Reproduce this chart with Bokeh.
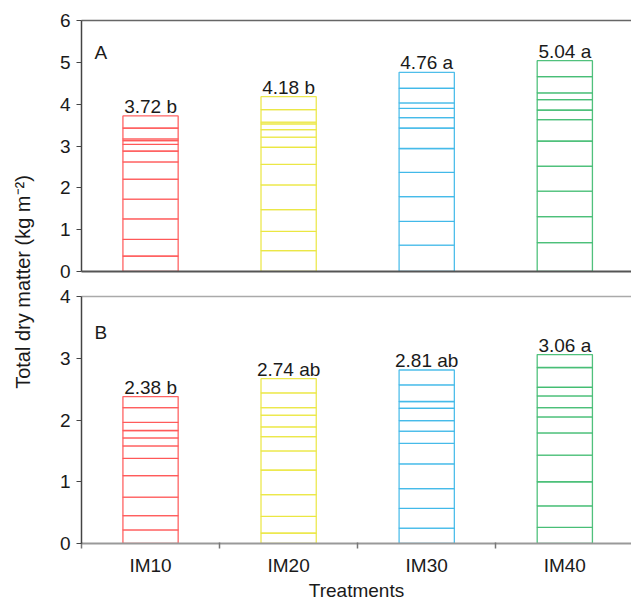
import math
from bokeh.plotting import figure
from bokeh.models import (Range1d, FixedTicker, LinearAxis, Label, LabelSet,
                          ColumnDataSource)
from bokeh.core.properties import value
from bokeh.layouts import row, column
from bokeh.embed import file_html
from bokeh.resources import INLINE

FONT = "Liberation Sans"

treatments = ["IM10", "IM20", "IM30", "IM40"]
colors = ["#FF5252", "#EAE53C", "#3CB7E8", "#3DBA6E"]

# Panel A: cumulative levels (horizontal lines inside each bar), last = bar top
a_im10 = [0.37, 0.77, 1.26, 1.73, 2.21, 2.62, 2.88, 3.04, 3.13, 3.17, 3.43, 3.72]
a_im20 = [0.50, 0.96, 1.48, 2.07, 2.56, 2.97, 3.21, 3.39, 3.53, 3.57, 3.87, 4.18]
a_im30 = [0.63, 1.20, 1.79, 2.37, 2.94, 3.43, 3.68, 3.90, 4.03, 4.38, 4.76]
a_im40 = [0.69, 1.31, 1.92, 2.52, 3.12, 3.63, 3.86, 4.11, 4.27, 4.66, 5.04]
a_labels = ["3.72 b", "4.18 b", "4.76 a", "5.04 a"]

# Panel B
b_im10 = [0.22, 0.45, 0.75, 1.10, 1.38, 1.58, 1.71, 1.83, 1.96, 2.20, 2.38]
b_im20 = [0.17, 0.44, 0.79, 1.19, 1.50, 1.73, 1.89, 2.08, 2.20, 2.44, 2.67]
b_im30 = [0.25, 0.57, 0.89, 1.29, 1.62, 1.82, 1.99, 2.19, 2.30, 2.57, 2.81]
b_im40 = [0.26, 0.61, 1.00, 1.43, 1.79, 2.05, 2.20, 2.39, 2.53, 2.85, 3.06]
b_labels = ["2.38 b", "2.74 ab", "2.81 ab", "3.06 a"]

a_ticks = [0, 1, 2, 3, 4, 5, 6]
b_ticks = [0, 1, 2, 3, 4]

X_MAX = 4.483
LABEL_W = 44
PANEL_W = 631 - LABEL_W


def make_panel(levels, labels, ymax, yticks, height, b_top, b_bottom,
               letter, letter_y, bottom_axis):
    p = figure(width=PANEL_W, height=height, output_backend="svg",
               toolbar_location=None, x_range=Range1d(0.5, X_MAX),
               y_range=Range1d(0, ymax), min_border_left=37,
               min_border_right=0, min_border_top=b_top,
               min_border_bottom=b_bottom)
    p.outline_line_color = None
    p.xgrid.visible = False
    p.ygrid.visible = False

    xs, bottoms, tops, cols = [], [], [], []
    for i, lv in enumerate(levels):
        prev = 0.0
        for v in lv:
            xs.append(i + 1)
            bottoms.append(prev)
            tops.append(v)
            cols.append(colors[i])
            prev = v
    src = ColumnDataSource(dict(x=xs, bottom=bottoms, top=tops, c=cols))
    p.vbar(x="x", width=0.4, bottom="bottom", top="top", source=src,
           fill_color="white", line_color="c", line_width=1.3, line_alpha=0.9)

    lsrc = ColumnDataSource(dict(x=[1, 2, 3, 4], y=[lv[-1] for lv in levels],
                                 t=labels))
    p.add_layout(LabelSet(x="x", y="y", text="t", source=lsrc, y_offset=3,
                          text_align="center", text_baseline="alphabetic",
                          text_font=value(FONT), text_font_size=value("19px"),
                          text_color=value("#1a1a1a")))

    p.add_layout(Label(x=0.594, y=letter_y, text=letter, text_font=FONT,
                       text_font_size="19px", text_color="#1a1a1a",
                       text_align="left", text_baseline="alphabetic"))

    ya = p.left[0]
    ya.ticker = FixedTicker(ticks=yticks)
    ya.major_tick_out = 5
    ya.major_tick_in = 0
    ya.minor_tick_line_color = None
    ya.axis_line_color = "#444444"
    ya.axis_line_width = 1.5
    ya.major_tick_line_color = "#444444"
    ya.major_label_text_font = FONT
    ya.major_label_text_font_size = "19px"
    ya.major_label_text_color = "#1a1a1a"
    ya.major_label_standoff = 6

    xa = p.below[0]
    if bottom_axis:
        xa.ticker = FixedTicker(ticks=[1, 2, 3, 4],
                                minor_ticks=[0.5, 1.5, 2.5, 3.5, 4.5])
        xa.major_label_overrides = {1: treatments[0], 2: treatments[1],
                                    3: treatments[2], 4: treatments[3]}
        xa.major_tick_out = 0
        xa.major_tick_in = 0
        xa.minor_tick_out = 5
        xa.minor_tick_in = 1
        xa.minor_tick_line_color = "#777777"
        xa.minor_tick_line_width = 1.5
        xa.axis_line_color = "#999999"
        xa.axis_line_width = 2
        xa.major_label_text_font = FONT
        xa.major_label_text_font_size = "19px"
        xa.major_label_text_color = "#1a1a1a"
        xa.major_label_standoff = 6
        xa.axis_label = "Treatments"
        xa.axis_label_text_font = FONT
        xa.axis_label_text_font_size = "19px"
        xa.axis_label_text_font_style = "normal"
        xa.axis_label_text_color = "#1a1a1a"
        xa.axis_label_standoff = 1
    else:
        xa.ticker = FixedTicker(ticks=[])
        xa.major_tick_out = 0
        xa.major_tick_in = 0
        xa.minor_tick_line_color = None
        xa.major_label_text_font_size = "0px"
        xa.major_label_standoff = 0
        xa.axis_line_color = "#555555"
        xa.axis_line_width = 2

    top_ax = LinearAxis(ticker=FixedTicker(ticks=[]), major_tick_out=0,
                        major_tick_in=0, major_label_text_font_size="0px",
                        major_label_standoff=0)
    top_ax.axis_line_color = "#666666" if letter == "A" else "#aaaaaa"
    top_ax.axis_line_width = 1.5
    p.add_layout(top_ax, "above")
    return p


pA = make_panel([a_im10, a_im20, a_im30, a_im40], a_labels, 6, a_ticks,
                283, 20, 12, "A", 5.24, False)
pB = make_panel([b_im10, b_im20, b_im30, b_im40], b_labels, 4, b_ticks,
                320, 13, 60, "B", 3.41, True)

TOTAL_H = 603
pL = figure(width=LABEL_W, height=TOTAL_H, output_backend="svg",
            toolbar_location=None, x_range=Range1d(0, LABEL_W),
            y_range=Range1d(0, TOTAL_H), x_axis_type=None, y_axis_type=None,
            min_border=0)
pL.outline_line_color = None
pL.xgrid.visible = False
pL.ygrid.visible = False
pL.add_layout(Label(x=22, y=TOTAL_H - 281.5, text="Total dry matter (kg m\u207b\u00b2)",
                    angle=math.pi / 2, text_align="center",
                    text_baseline="middle", text_font=FONT,
                    text_font_size="20px", text_color="#1a1a1a"))

layout = row(pL, column(pA, pB, spacing=0), spacing=0)

open("out.html", "w").write(file_html(layout, INLINE))
